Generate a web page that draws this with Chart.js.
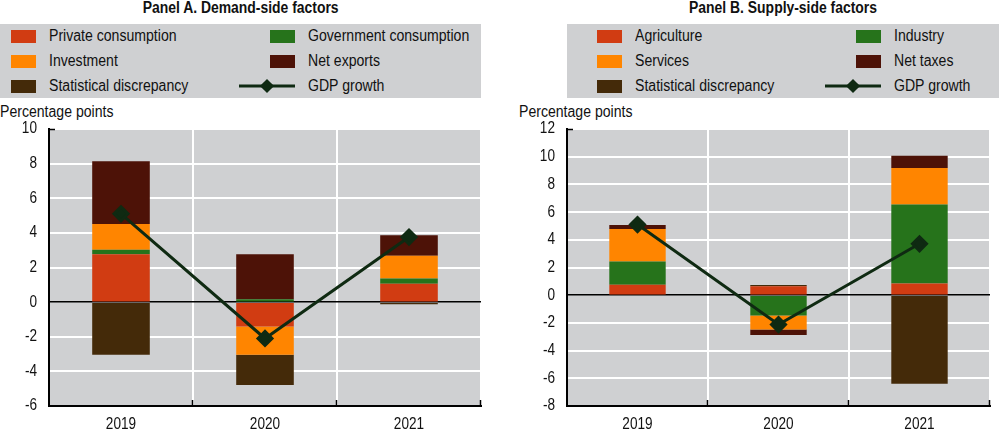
<!DOCTYPE html>
<html>
<head>
<meta charset="utf-8">
<script src="https://cdn.jsdelivr.net/npm/chart.js@4"></script>
<style>
  body { margin: 0; width: 1000px; height: 431px; background: #fff; position: relative; overflow: hidden;
         font-family: "Liberation Sans", Arial, sans-serif; color: #111; }
  .title { position: absolute; top: 0; font-weight: bold; font-size: 16px; text-align: center; line-height: 16px; }
  .title span { display: inline-block; transform: scaleX(0.87); }
  .legend { position: absolute; top: 24px; height: 74px; background: #cfd0d2; font-size: 16px; }
  .item { position: absolute; height: 20px; line-height: 20px; white-space: nowrap; }
  .item .txt { position: absolute; left: 38px; top: 0; transform: scaleX(0.88); transform-origin: 0 50%; }
  .sw { position: absolute; width: 25px; height: 13px; top: 4px; left: 0; }
  .unit { position: absolute; top: 103px; font-size: 16px; transform: scaleX(0.88); transform-origin: 0 50%; white-space: nowrap; }
  .wrap { position: absolute; top: 100px; width: 500px; height: 331px; }
</style>
</head>
<body>
<div class="title" style="left:0;width:481px"><span>Panel A. Demand-side factors</span></div>
<div class="legend" id="legA" style="left:0;width:481px"></div>
<div class="unit" style="left:0">Percentage points</div>
<div class="title" style="left:567px;width:432px"><span>Panel B. Supply-side factors</span></div>
<div class="legend" id="legB" style="left:567px;width:432px"></div>
<div class="unit" style="left:519px">Percentage points</div>
<div class="wrap" style="left:0"><canvas id="chartA"></canvas></div>
<div class="wrap" style="left:500px"><canvas id="chartB"></canvas></div>
<script>
// years
const years = ['2019', '2020', '2021'];

// Panel A: demand-side contributions
const privateConsumption = [2.77, -1.41, 1.06];
const governmentConsumption = [0.25, 0.17, 0.31];
const investment = [1.49, -1.63, 1.31];
const netExports = [3.62, 2.59, 1.19];
const statDiscA = [-3.04, -1.74, -0.12];
const gdpA = [5.1, -2.1, 3.76];

// Panel B: supply-side contributions
const agriculture = [0.75, 0.65, 0.84];
const industry = [1.69, -1.47, 5.71];
const services = [2.34, -1.01, 2.63];
const netTaxes = [0.29, -0.39, 0.89];
const statDiscB = [0.0, 0.08, -6.39];
const gdpB = [5.1, -2.12, 3.71];

const yTicksA = { min: -6, max: 10, step: 2 };
const yTicksB = { min: -8, max: 12, step: 2 };

const colors = {
    red: '#d13c12',
    green: '#26731b',
    orange: '#ff8500',
    maroon: '#4d1207',
    brown: '#442a09',
    line: '#0f2a12',
    plotBg: '#cfd0d2'
};

// legend in two columns, three rows
function buildLegend(id, items, col2Left, swLeft) {
    const box = document.getElementById(id);
    const rows = [12, 37, 62];
    items.forEach((it, i) => {
        const col = i % 2, row = Math.floor(i / 2);
        const el = document.createElement('div');
        el.className = 'item';
        el.style.top = (rows[row] - 10) + 'px';
        el.style.left = (col === 0 ? swLeft : col2Left) + 'px';
        if (it.line) {
            el.innerHTML = '<svg style="position:absolute;left:-31px;top:2px" width="56" height="16">' +
                '<line x1="0" y1="8" x2="56" y2="8" stroke="' + colors.line + '" stroke-width="3"/>' +
                '<rect x="23" y="3" width="10" height="10" fill="' + colors.line + '" transform="rotate(45 28 8)"/></svg>' +
                '<span class="txt">' + it.label + '</span>';
        } else {
            el.innerHTML = '<span class="sw" style="background:' + it.color + '"></span>' +
                '<span class="txt">' + it.label + '</span>';
        }
        box.appendChild(el);
    });
}

buildLegend('legA', [
    { label: 'Private consumption', color: colors.red },
    { label: 'Government consumption', color: colors.green },
    { label: 'Investment', color: colors.orange },
    { label: 'Net exports', color: colors.maroon },
    { label: 'Statistical discrepancy', color: colors.brown },
    { label: 'GDP growth', line: true }
], 270, 11);

buildLegend('legB', [
    { label: 'Agriculture', color: colors.red },
    { label: 'Industry', color: colors.green },
    { label: 'Services', color: colors.orange },
    { label: 'Net taxes', color: colors.maroon },
    { label: 'Statistical discrepancy', color: colors.brown },
    { label: 'GDP growth', line: true }
], 289, 30);

// grey plot background, small inward ticks, narrow tick labels
const plotDecor = {
    id: 'plotDecor',
    beforeDraw(chart) {
        const { ctx, chartArea: a } = chart;
        ctx.save();
        ctx.fillStyle = colors.plotBg;
        ctx.fillRect(a.left, a.top, a.right - a.left, a.bottom - a.top);
        ctx.restore();
    },
    afterDraw(chart) {
        const { ctx, chartArea: a } = chart;
        const n = chart.data.labels.length;
        const w = (a.right - a.left) / n;
        ctx.save();
        ctx.strokeStyle = '#000';
        ctx.lineWidth = 1.5;
        for (let i = 1; i <= n; i++) {
            const x = Math.round(a.left + w * i) - 0.5;
            ctx.beginPath();
            ctx.moveTo(x, a.bottom - 6);
            ctx.lineTo(x, a.bottom);
            ctx.stroke();
        }
        ctx.beginPath();
        ctx.moveTo(a.left, a.top + 0.5);
        ctx.lineTo(a.left + 6, a.top + 0.5);
        ctx.stroke();

        // tick labels, horizontally condensed like the original narrow font
        ctx.fillStyle = '#111';
        ctx.font = '16px "Liberation Sans", Arial, sans-serif';
        ctx.textBaseline = 'middle';
        const ys = chart.scales.y;
        ctx.textAlign = 'right';
        ys.ticks.forEach((t, i) => {
            ctx.save();
            ctx.translate(a.left - 12, ys.getPixelForTick(i));
            ctx.scale(0.85, 1);
            ctx.fillText(String(t.value), 0, 0);
            ctx.restore();
        });
        const xs = chart.scales.x;
        ctx.textAlign = 'center';
        xs.ticks.forEach((t, i) => {
            ctx.save();
            ctx.translate(xs.getPixelForTick(i), a.bottom + 19);
            ctx.scale(0.85, 1);
            ctx.fillText(chart.data.labels[i], 0, 0);
            ctx.restore();
        });
        ctx.restore();
    }
};

function makeChart(id, bars, gdp, yt, axisWidth, rightPad) {
    const datasets = bars.map(b => ({
        type: 'bar',
        label: b.label,
        data: b.data,
        backgroundColor: b.color,
        stack: 'c',
        order: 1,
        barPercentage: 0.4,
        categoryPercentage: 1
    }));
    datasets.push({
        type: 'line',
        label: 'GDP growth',
        data: gdp,
        stack: 'gdp',
        order: 0,
        borderColor: colors.line,
        backgroundColor: colors.line,
        borderWidth: 3,
        pointStyle: 'rectRot',
        pointRadius: 7,
        pointHoverRadius: 7,
        tension: 0
    });
    return new Chart(document.getElementById(id), {
        data: { labels: years, datasets: datasets },
        plugins: [plotDecor],
        options: {
            responsive: true,
            maintainAspectRatio: false,
            animation: false,
            layout: { padding: { top: 29, right: rightPad, bottom: 0, left: 0 } },
            plugins: { legend: { display: false }, tooltip: { enabled: false } },
            scales: {
                x: {
                    stacked: true,
                    afterFit(scale) { scale.height = 25; },
                    grid: { color: '#fff', lineWidth: 2, drawTicks: false, offset: true },
                    border: { color: '#000', width: 2 },
                    ticks: { display: false }
                },
                y: {
                    stacked: true,
                    min: yt.min,
                    max: yt.max,
                    afterFit(scale) { scale.width = axisWidth; },
                    grid: {
                        color: ctx => ctx.tick && ctx.tick.value === 0 ? '#000' : '#fff',
                        lineWidth: ctx => ctx.tick && ctx.tick.value === 0 ? 1.5 : 2,
                        drawTicks: false
                    },
                    border: { color: '#000', width: 2 },
                    ticks: { stepSize: yt.step, display: false }
                }
            }
        }
    });
}

makeChart('chartA', [
    { label: 'Private consumption', data: privateConsumption, color: colors.red },
    { label: 'Government consumption', data: governmentConsumption, color: colors.green },
    { label: 'Investment', data: investment, color: colors.orange },
    { label: 'Net exports', data: netExports, color: colors.maroon },
    { label: 'Statistical discrepancy', data: statDiscA, color: colors.brown }
], gdpA, yTicksA, 49, 19);

makeChart('chartB', [
    { label: 'Agriculture', data: agriculture, color: colors.red },
    { label: 'Industry', data: industry, color: colors.green },
    { label: 'Services', data: services, color: colors.orange },
    { label: 'Net taxes', data: netTaxes, color: colors.maroon },
    { label: 'Statistical discrepancy', data: statDiscB, color: colors.brown }
], gdpB, yTicksB, 67, 1);
</script>
</body>
</html>
